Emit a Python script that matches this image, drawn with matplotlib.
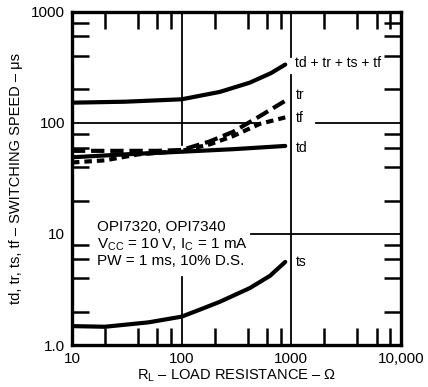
"""Switching speed vs load resistance for OPI7320 / OPI7340."""

from matplotlib import pyplot as plt
from matplotlib.ticker import LogLocator, FixedLocator, FixedFormatter, NullFormatter

plt.rcParams['font.family'] = ['Liberation Sans', 'DejaVu Sans']
plt.rcParams['mathtext.fontset'] = 'custom'
plt.rcParams['mathtext.rm'] = 'Liberation Sans'

# Load resistance [ohm] and switching times [microsecond].
r_total = [10, 30, 100, 223, 417, 650, 880]
t_total = [152, 155, 163, 190, 230, 280, 335]

r_tr = [10, 30, 60, 100, 180, 294, 517, 880]
t_tr = [56, 56, 56, 57, 68, 83, 115, 158]

r_tf = [10, 20, 40, 100, 180, 294, 517, 880]
t_tf = [44, 46, 52, 56, 64, 76, 98, 112]

r_td = [10, 30, 100, 300, 880]
t_td = [49, 52, 55, 58, 62]

r_ts = [10, 20, 50, 100, 150, 223, 417, 640, 880]
t_ts = [1.48, 1.46, 1.6, 1.8, 2.1, 2.45, 3.25, 4.2, 5.6]

x_ticks = [10, 100, 1000, 10000]
x_ticklabels = ['10', '100', '1000', '10,000']
y_ticks = [1, 10, 100, 1000]
y_ticklabels = ['1.0', '10', '100', '1000']

fig = plt.figure(figsize=(4.28, 3.87), dpi=100)
ax = fig.add_axes([0.168, 0.1085, 0.769, 0.861])
ax.set_xscale('log')
ax.set_yscale('log')
ax.set_xlim(10, 10000)
ax.set_ylim(1, 1000)

lw = 3.0
ax.plot(r_total, t_total, color='black', lw=lw, solid_capstyle='round')
ax.plot(r_tr, t_tr, color='black', lw=lw, dashes=(3.2, 1.4))
ax.plot(r_tf, t_tf, color='black', lw=lw, dashes=(1.8, 1.2))
ax.plot(r_td, t_td, color='black', lw=lw, solid_capstyle='round')
ax.plot(r_ts, t_ts, color='black', lw=lw, solid_capstyle='round')

# grid lines, broken where the labels sit
g = dict(color='black', lw=1.3, zorder=1)
ax.axhline(100, xmax=0.565, **g)
ax.axhline(100, xmin=0.742, **g)
ax.axhline(10, xmin=0.544, **g)
ax.axvline(100, ymin=0.60, **g)
ax.axvline(100, ymax=0.204, **g)
ax.axvline(1000, ymax=0.811, **g)
ax.axvline(1000, ymin=0.865, **g)

for s in ax.spines.values():
    s.set_linewidth(2.4)

ax.xaxis.set_major_locator(FixedLocator(x_ticks))
ax.xaxis.set_major_formatter(FixedFormatter(x_ticklabels))
ax.yaxis.set_major_locator(FixedLocator(y_ticks))
ax.yaxis.set_major_formatter(FixedFormatter(y_ticklabels))
ax.xaxis.set_minor_locator(LogLocator(base=10, subs=[2, 4, 6, 8]))
ax.yaxis.set_minor_locator(LogLocator(base=10, subs=[2, 4, 6, 8]))
ax.xaxis.set_minor_formatter(NullFormatter())
ax.yaxis.set_minor_formatter(NullFormatter())
ax.tick_params(which='major', length=0, labelsize=11, pad=5)
ax.tick_params(which='minor', direction='in', length=12, width=1.8,
               top=True, right=True)

ax.set_xlabel('R$_\\mathregular{L}$ – LOAD RESISTANCE – Ω', fontsize=10.5, labelpad=1)
ax.set_ylabel('td, tr, ts, tf – SWITCHING SPEED – μs', fontsize=10.5, labelpad=6)

# curve labels
lab = dict(fontsize=10, va='center', ha='left')
ax.text(1090, 345, 'td + tr + ts + tf', **lab)
ax.text(1090, 178, 'tr', **lab)
ax.text(1090, 110, 'tf', **lab)
ax.text(1090, 60, 'td', **lab)
ax.text(1090, 5.6, 'ts', **lab)

ax.text(0.076, 0.375,
        'OPI7320, OPI7340\n'
        'V$_\\mathregular{CC}$ = 10 V, I$_\\mathregular{C}$ = 1 mA\n'
        'PW = 1 ms, 10% D.S.',
        transform=ax.transAxes, fontsize=11, va='top', ha='left',
        linespacing=1.15)

fig.savefig('out.png', dpi=100)
